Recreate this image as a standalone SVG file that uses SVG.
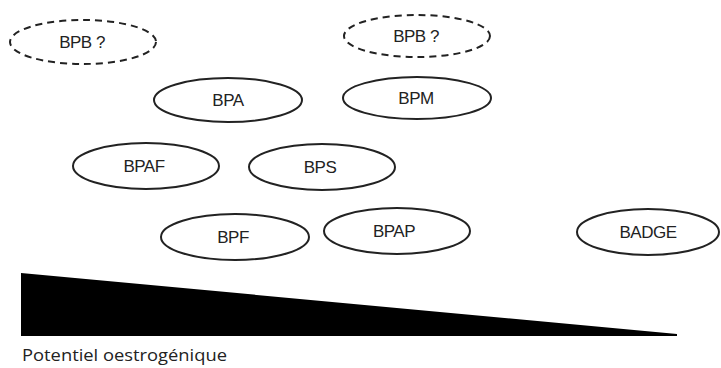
<svg xmlns="http://www.w3.org/2000/svg" width="721" height="368" viewBox="0 0 721 368">
<style>
.n ellipse{fill:#fff;stroke:#222;stroke-width:2}
.d ellipse{stroke-dasharray:7,5}
.n text{font-family:"Liberation Sans",Arial,sans-serif;font-size:17px;fill:#222;text-anchor:middle;letter-spacing:-0.5px}
.cap{font-family:"Open Sans","Noto Sans",sans-serif;font-size:16px;fill:#222}
</style>
<rect width="721" height="368" fill="#fff"/>
<g id="bpb1" class="n d"><ellipse cx="83" cy="42" rx="73" ry="22"/><text x="82" y="48">BPB ?</text></g>
<g id="bpb2" class="n d"><ellipse cx="417" cy="36" rx="73" ry="21"/><text x="416" y="42">BPB ?</text></g>
<g id="bpa" class="n"><ellipse cx="228" cy="100" rx="74" ry="22"/><text x="228" y="106">BPA</text></g>
<g id="bpm" class="n"><ellipse cx="417" cy="98" rx="74" ry="21"/><text x="416" y="104">BPM</text></g>
<g id="bpaf" class="n"><ellipse cx="146" cy="166" rx="73" ry="23"/><text x="144" y="172">BPAF</text></g>
<g id="bps" class="n"><ellipse cx="322" cy="167" rx="73" ry="23"/><text x="320" y="173">BPS</text></g>
<g id="bpf" class="n"><ellipse cx="235" cy="237" rx="74" ry="23"/><text x="233" y="243">BPF</text></g>
<g id="bpap" class="n"><ellipse cx="397" cy="231" rx="73" ry="23"/><text x="394" y="237">BPAP</text></g>
<g id="badge" class="n"><ellipse cx="648" cy="232" rx="71" ry="23"/><text x="648" y="238">BADGE</text></g>
<g id="connectors"></g>
<polygon points="21,273 677,334 677,336 21,336" fill="#000"/>
<text class="cap" x="22" y="361" textLength="205" lengthAdjust="spacingAndGlyphs">Potentiel oestrogénique</text>
</svg>
